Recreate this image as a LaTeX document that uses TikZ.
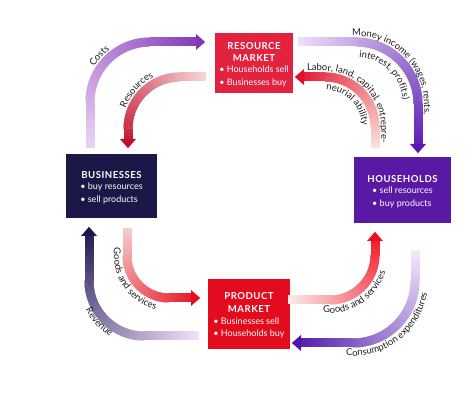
\documentclass[tikz,border=0pt]{standalone}
\usepackage{fontspec}
\setmainfont{Lato}
\usetikzlibrary{decorations.markings,decorations.text}
\definecolor{rmred}{HTML}{E2223F}
\definecolor{busnavy}{HTML}{1B1747}
\definecolor{hhpurple}{HTML}{5A19A5}
\definecolor{pmred}{HTML}{E30B1E}
\definecolor{costL}{HTML}{EAD4F4}
\definecolor{costD}{HTML}{8236B8}
\definecolor{resL}{HTML}{F7D6D6}
\definecolor{resD}{HTML}{BE0F2C}
\definecolor{monL}{HTML}{EEDFF9}
\definecolor{monD}{HTML}{5818B0}
\definecolor{labL}{HTML}{FAE2DA}
\definecolor{labD}{HTML}{E30F2A}
\definecolor{gdlL}{HTML}{F5CDCD}
\definecolor{gdlD}{HTML}{E5101E}
\definecolor{revL}{HTML}{F1E0F9}
\definecolor{revD}{HTML}{1E1452}
\definecolor{gdrL}{HTML}{FCEBEB}
\definecolor{gdrD}{HTML}{EE1020}
\definecolor{conL}{HTML}{F5E8FB}
\definecolor{conD}{HTML}{4C17A8}
\definecolor{labtext}{HTML}{1E1E1E}
\newcommand\labfont{\fontsize{9.5}{10}\selectfont}
\newcommand\ttl[1]{{\fontsize{9.6}{11.5}\selectfont\bfseries\addfontfeatures{LetterSpace=5}#1}}
\newcommand\topstrut{\rule{0pt}{12.5pt}}
\newcommand\bul{\textbullet\ }
\newcommand\flowhead[3]{\begin{scope}[shift={(#1)}, rotate=#2]
  \fill[#3] (0.2,0) -- (-9,8) -- (-9,-8) -- cycle;\end{scope}}
\begin{document}
\begin{tikzpicture}[x=1pt,y=1pt,
  box/.style={rectangle, inner sep=0pt, text=white, align=center,
    font=\fontsize{9}{12.8}\selectfont},
  flow/.style n args={2}{decorate, decoration={markings,
    mark=between positions 0 and -8.5pt step 0.5pt with {%
      \pgfmathtruncatemacro\fr{\pgfkeysvalueof{/pgf/decoration/mark info/distance from start}/\pgfdecoratedpathlength*100}%
      \fill[#2!\fr!#1, sharp corners] (-0.45pt,-4.5pt) rectangle (0.45pt,4.5pt);}}},
  lab/.style n args={2}{decorate, decoration={text along path,
    text color=labtext, text align={left indent=#1}, text={|\labfont|#2}}},
]
\useasboundingbox (0,0) rectangle (475,401);

% boxes
\node[box, fill=rmred, minimum width=78pt, minimum height=60pt] (rm) at (254,338)
  {\topstrut\ttl{RESOURCE}\\\ttl{MARKET}\\[1pt]
   \begin{tabular}{@{}l@{}}\bul Households sell\\\bul Businesses buy\end{tabular}};
\node[box, fill=busnavy, minimum width=91pt, minimum height=64pt] (bus) at (111.5,215)
  {\topstrut\ttl{BUSINESSES}\\[1pt]
   \begin{tabular}{@{}l@{}}\bul buy resources\\\bul sell products\end{tabular}};
\node[box, fill=hhpurple, minimum width=97pt, minimum height=66pt] (hh) at (402.5,211)
  {\topstrut\ttl{HOUSEHOLDS}\\[1pt]
   \begin{tabular}{@{}l@{}}\bul sell resources\\\bul buy products\end{tabular}};
\node[box, fill=pmred, minimum width=82pt, minimum height=70pt] (pm) at (249,87)
  {\topstrut\ttl{PRODUCT}\\\ttl{MARKET}\\[1.5pt]
   \begin{tabular}{@{}l@{}}\bul Businesses sell\\\bul Households buy\end{tabular}};

% end points of the flows
\coordinate (costA) at (90,254);  \coordinate (costB) at (205,359);
\coordinate (resA)  at (205,324); \coordinate (resB)  at (128,253);
\coordinate (monA)  at (298,359); \coordinate (monB)  at (418,248);
\coordinate (labA)  at (375,254); \coordinate (labB)  at (295,324);
\coordinate (gdlA)  at (127,173); \coordinate (gdlB)  at (200,103);
\coordinate (revA)  at (198,65);  \coordinate (revB)  at (89,174);
\coordinate (gdrA)  at (288,101); \coordinate (gdrB)  at (375,169);
\coordinate (conA)  at (415,151); \coordinate (conB)  at (292,58);

% flows
\path[flow={costL}{costD}, rounded corners=60pt] (costA) |- (costB);
\flowhead{costB}{0}{costD}
\path[flow={resL}{resD}, rounded corners=52pt] (resA) -| (resB);
\flowhead{resB}{-90}{resD}
\path[flow={monL}{monD}, rounded corners=62pt] (monA) -| (monB);
\flowhead{monB}{-90}{monD}
\path[flow={labL}{labD}, rounded corners=50pt] (labA) |- (labB);
\flowhead{labB}{180}{labD}
\path[flow={gdlL}{gdlD}, rounded corners=42pt] (gdlA) |- (gdlB);
\flowhead{gdlB}{0}{gdlD}
\path[flow={revL}{revD}, rounded corners=55pt] (revA) -| (revB);
\flowhead{revB}{90}{revD}
\path[flow={gdrL}{gdrD}, rounded corners=45pt] (gdrA) -| (gdrB);
\flowhead{gdrB}{90}{gdrD}
\path[flow={conL}{conD}, rounded corners=62pt] (conA) |- (conB);
\flowhead{conB}{180}{conD}

% labels
\path[lab={82pt}{Costs}, rounded corners=66pt] (84,254) |- (205,365);
\path[lab={40pt}{Resources}, rounded corners=58pt] (122,253) |- (205,330);
\path[lab={54pt}{Money income (wages, rents,}, rounded corners=68pt] (298,365) -| (424,220);
\path[lab={61pt}{interest, profits)}, rounded corners=47pt] (298,344) -| (403,220);
\path[lab={12pt}{Labor, land, capital, entrepre-}, rounded corners=56pt] (295,330) -| (381,220);
\path[lab={31pt}{neurial ability}, rounded corners=37pt] (295,311) -| (362,220);
\path[lab={20pt}{Goods and services}, rounded corners=55pt] (114,173) |- (220,90);
\path[lab={84pt}{Revenue}, rounded corners=65pt] (79,174) |- (198,55);
\path[lab={35pt}{Goods and services}, rounded corners=58pt] (288,88) -| (388,185);
\path[lab={54pt}{Consumption expenditures}, rounded corners=75pt] (292,45) -| (428,170);
\end{tikzpicture}
\end{document}
